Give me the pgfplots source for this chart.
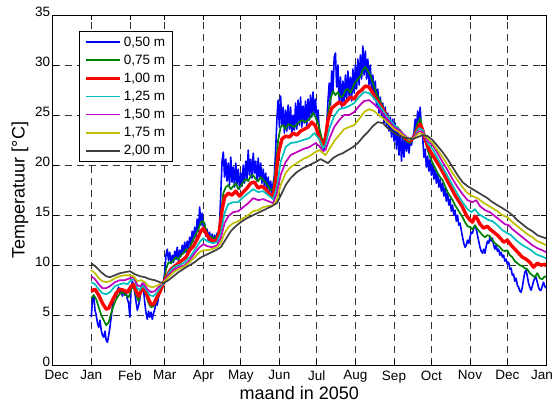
\documentclass[border=0pt]{standalone}
\usepackage{fontspec}
\setmainfont{Liberation Sans}
\usepackage{pgfplots}
\pgfplotsset{compat=1.18}
\definecolor{mblue}{RGB}{0,0,255}
\definecolor{mgreen}{RGB}{0,128,0}
\definecolor{mred}{RGB}{255,0,0}
\definecolor{mcyan}{RGB}{0,191,191}
\definecolor{mmagenta}{RGB}{191,0,191}
\definecolor{myellow}{RGB}{191,191,0}
\definecolor{mgray}{RGB}{64,64,64}
\pgfplotsset{legend image code/.code={\draw[#1] (0pt,0pt) -- (34pt,0pt);}}
\begin{document}
\begin{tikzpicture}
\path[use as bounding box] (-52.6pt,-38pt) rectangle (501pt,365pt);
\begin{axis}[
  at={(0pt,0pt)}, anchor=south west,
  scale only axis, width=493pt, height=350pt,
  xmin=-31, xmax=365, ymin=0, ymax=35,
  xtick={-31,0,31,59,90,120,151,181,212,243,273,304,334,365},
  xticklabels={\makebox[0pt][l]{\hspace{-8pt}Dec},Jan,Feb,Mar,Apr,May,Jun,Jul,Aug,Sep,Oct,Nov,Dec,\makebox[0pt][r]{Jan\hspace{-7pt}}},
  ytick={0,5,...,35},
  tick align=inside,
  major tick length=5pt,
  grid=major,
  major grid style={black!80, dash pattern=on 7pt off 5pt, line width=0.7pt},
  axis line style={line width=0.9pt},
  tick style={black, line width=0.7pt},
  ticklabel style={font=\fontsize{13.5}{15}\selectfont},
  yticklabel style={yshift=3.2pt, xshift=1pt},
  xticklabel style={yshift=-1.8pt},
  /pgf/number format/assume math mode=true,
  xlabel={maand in 2050}, ylabel={Temperatuur [°C]},
  label style={font=\fontsize{18}{20}\selectfont},
  x label style={at={(axis description cs:0.5,-0.080)}, anchor=center},
  y label style={at={(axis description cs:-0.066,0.5)}, anchor=center},
  legend style={at={(axis description cs:0.0535,0.954)}, anchor=north west,
    draw=black, line width=0.9pt, fill=white,
    font=\fontsize{13.5}{15}\selectfont, row sep=3.2pt,
    inner xsep=5pt, inner ysep=3pt,
    cells={anchor=west}},
  every axis plot/.append style={line join=round},
]
% 0,50 m
\addplot[forget plot, color=mblue, draw=mblue, line width=1.6pt] coordinates {
(0,4.8) (1,6.5) (2,7.0) (3,5.5) (4,5.0) (5,4.2) (6,3.8) (7,4.5) (8,3.5) (9,3.0)
(10,2.8) (11,3.4) (12,2.5) (13,2.3) (14,3.0) (15,3.8) (16,4.8) (17,5.9) (18,6.5) (19,7.2)
(20,6.8) (21,7.5) (22,7.8) (23,7.2) (24,7.6) (25,6.9) (26,7.4) (27,7.0) (28,7.3) (29,6.6)
(30,6.2) (31,4.8) (32,7.8) (33,8.4) (34,8.0) (35,7.2) (36,6.3) (37,5.5) (38,6.0) (39,6.6)
(40,7.8) (41,8.2) (42,7.5) (43,6.2) (44,5.2) (45,4.6) (46,5.4) (47,4.8) (48,5.3) (49,4.6)
(50,5.2) (51,5.6) (52,6.4) (53,6.0) (54,6.8) (55,7.4) (56,7.9) (57,8.1) (58,8.4) (59,9.3)
(60,11.0) (61,11.6) (62,10.5) (63,11.3) (64,10.2) (65,11.0) (66,10.3) (67,11.4) (68,10.6) (69,11.8)
(70,10.4) (71,11.5) (72,10.9) (73,12.0) (74,11.2) (75,12.3) (76,11.3) (77,12.4) (78,11.6) (79,12.8)
(80,12.0) (81,13.4) (82,12.4) (83,13.8) (84,12.8) (85,14.6) (86,13.4) (87,15.8) (88,14.0) (89,15.2)
(90,13.6) (91,14.2) (92,12.9) (93,13.6) (94,12.4) (95,13.3) (96,12.3) (97,13.1) (98,12.2) (99,13.0)
(100,12.4) (101,13.2) (102,12.8) (103,14.2) (104,17.2) (105,20.4) (106,21.3) (107,18.8) (108,20.6) (109,18.4)
(110,20.2) (111,18.0) (112,20.8) (113,18.3) (114,19.8) (115,17.8) (116,20.2) (117,18.1) (118,19.6) (119,17.6)
(120,19.2) (121,17.9) (122,20.0) (123,18.2) (124,20.4) (125,18.6) (126,21.5) (127,19.0) (128,20.6) (129,18.7)
(130,21.2) (131,19.2) (132,20.4) (133,18.4) (134,20.7) (135,18.6) (136,20.2) (137,18.2) (138,19.6) (139,17.8)
(140,19.2) (141,17.6) (142,18.8) (143,17.3) (144,18.4) (145,17.2) (146,18.2) (147,19.0) (148,21.5) (149,24.6)
(150,26.5) (151,23.8) (152,26.9) (153,24.0) (154,25.8) (155,23.2) (156,25.5) (157,23.4) (158,26.0) (159,23.6)
(160,25.8) (161,22.9) (162,25.0) (163,23.5) (164,26.2) (165,23.6) (166,26.5) (167,24.0) (168,26.8) (169,23.8)
(170,25.9) (171,24.2) (172,26.4) (173,23.9) (174,26.6) (175,24.5) (176,27.0) (177,24.8) (178,27.3) (179,25.0)
(180,26.6) (181,24.4) (182,25.5) (183,23.6) (184,23.0) (185,22.2) (186,21.8) (187,21.5) (188,22.4) (189,24.0)
(190,26.4) (191,28.2) (192,26.0) (193,29.4) (194,27.2) (195,30.8) (196,31.2) (197,27.8) (198,30.0) (199,26.4)
(200,28.8) (201,25.8) (202,28.4) (203,26.2) (204,29.0) (205,26.6) (206,29.4) (207,26.8) (208,28.8) (209,26.4)
(210,29.6) (211,27.2) (212,30.0) (213,27.6) (214,30.6) (215,28.0) (216,31.0) (217,28.6) (218,31.9) (219,29.0)
(220,31.4) (221,28.6) (222,30.6) (223,28.0) (224,30.0) (225,27.4) (226,29.0) (227,26.6) (228,28.4) (229,25.8)
(230,27.6) (231,25.2) (232,26.8) (233,24.8) (234,26.2) (235,24.2) (236,25.8) (237,23.8) (238,25.2) (239,23.4)
(240,24.8) (241,22.8) (242,24.6) (243,22.4) (244,24.2) (245,21.6) (246,23.8) (247,21.0) (248,23.4) (249,20.4)
(250,22.8) (251,20.8) (252,23.0) (253,21.4) (254,22.6) (255,21.2) (256,22.4) (257,22.0) (258,22.8) (259,23.2)
(260,24.6) (261,23.4) (262,25.4) (263,24.2) (264,25.8) (265,23.6) (266,22.8) (267,20.8) (268,21.6) (269,19.8)
(270,20.9) (271,19.4) (272,20.6) (273,19.0) (274,20.2) (275,18.6) (276,19.6) (277,18.2) (278,19.2) (279,17.8)
(280,18.6) (281,17.4) (282,18.2) (283,16.9) (284,17.7) (285,16.4) (286,17.2) (287,16.0) (288,16.6) (289,15.4)
(290,16.0) (291,15.0) (292,15.5) (293,14.4) (294,15.0) (295,14.0) (296,14.2) (297,13.5) (298,12.8) (299,12.2)
(300,11.8) (301,12.0) (302,12.5) (303,12.2) (304,12.8) (305,13.3) (306,13.2) (307,13.7) (308,13.9) (309,13.6)
(310,13.0) (311,12.4) (312,11.8) (313,11.4) (314,11.2) (315,11.6) (316,11.2) (317,11.9) (318,12.4) (319,12.2)
(320,12.8) (321,12.4) (322,12.7) (323,12.0) (324,11.6) (325,12.0) (326,11.4) (327,11.6) (328,11.0) (329,11.3)
(330,10.8) (331,11.0) (332,10.4) (333,10.6) (334,10.1) (335,10.3) (336,9.6) (337,9.7) (338,9.0) (339,9.1)
(340,8.4) (341,8.7) (342,8.0) (343,7.8) (344,7.4) (345,7.3) (346,7.8) (347,8.6) (348,9.3) (349,9.5)
(350,8.9) (351,8.2) (352,7.8) (353,7.5) (354,7.9) (355,8.4) (356,8.7) (357,8.8) (358,8.3) (359,7.8)
(360,7.5) (361,7.5) (362,7.9) (363,8.3) (364,7.9) (365,7.7)
};
% 0,75 m
\addplot[forget plot, color=mgreen, draw=mgreen, line width=1.7pt] coordinates {
(0,6.7) (2,7.0) (4,6.6) (6,5.8) (8,5.0) (10,4.5) (12,4.0) (14,4.3) (16,5.2) (18,6.0)
(20,6.6) (22,7.0) (24,7.3) (26,7.2) (28,7.0) (30,6.8) (32,7.6) (34,7.9) (36,7.0) (38,6.4)
(40,7.4) (42,7.7) (44,7.0) (46,6.2) (48,5.8) (50,5.9) (52,6.3) (54,6.9) (56,7.5) (58,8.2)
(60,9.6) (62,10.3) (64,10.2) (66,10.5) (68,10.8) (70,10.6) (72,11.0) (74,11.2) (76,11.6) (78,11.4)
(80,12.0) (82,12.6) (84,13.1) (86,13.6) (88,14.3) (90,14.4) (92,13.6) (94,12.8) (96,12.9) (98,12.6)
(100,12.8) (102,13.0) (104,15.0) (106,17.2) (108,17.8) (110,18.0) (112,17.6) (114,17.9) (116,18.2) (118,17.6)
(120,17.9) (122,18.3) (124,18.6) (126,18.4) (128,18.9) (130,19.0) (132,18.6) (134,18.4) (136,18.8) (138,18.5)
(140,18.3) (142,17.9) (144,17.5) (146,17.6) (148,19.8) (150,22.5) (152,23.8) (154,24.0) (156,23.6) (158,24.1)
(160,24.0) (163,23.8) (166,24.2) (169,24.5) (172,24.3) (175,24.6) (178,25.2) (180,24.8) (182,24.2) (184,23.2)
(186,22.2) (188,22.5) (190,25.0) (192,26.6) (194,27.4) (196,27.0) (198,27.3) (200,26.8) (202,26.9) (204,27.5)
(206,27.6) (208,27.2) (210,27.8) (212,28.3) (214,28.6) (216,28.9) (218,29.5) (220,29.8) (222,29.4) (224,29.0)
(226,28.2) (228,27.5) (230,26.8) (232,26.4) (234,25.8) (236,25.3) (238,24.8) (240,24.2) (242,23.8) (244,23.5)
(246,23.8) (248,23.2) (250,22.8) (252,22.5) (254,22.3) (256,22.2) (258,22.6) (260,23.4) (262,24.2) (264,24.7)
(266,23.6) (268,22.4) (270,21.5) (272,20.8) (274,20.2) (276,19.7) (278,19.2) (280,18.8) (282,18.5) (284,17.9)
(286,17.3) (288,16.9) (290,16.5) (292,16.0) (294,15.6) (296,15.2) (298,14.8) (300,14.3) (302,13.9) (304,13.8)
(306,13.6) (308,14.0) (310,13.6) (312,13.3) (314,13.0) (316,12.8) (318,13.0) (320,12.9) (322,12.5) (324,12.2)
(326,12.0) (328,11.8) (330,11.5) (332,11.4) (334,11.5) (336,11.0) (338,10.8) (340,10.4) (342,10.2) (344,10.0)
(346,9.9) (348,9.7) (350,9.6) (352,9.2) (354,9.0) (356,8.8) (358,9.2) (360,8.7) (362,8.6) (364,8.9) (365,8.8)
};
% 1,00 m
\addplot[forget plot, color=mred, draw=mred, line width=3.4pt] coordinates {
(0,7.4) (3,7.6) (6,7.0) (9,6.2) (12,5.6) (14,5.7) (17,6.5) (20,7.2) (23,7.6) (26,7.5)
(29,7.3) (32,7.9) (34,8.1) (36,7.4) (38,6.9) (40,7.4) (42,7.7) (44,7.3) (46,6.6) (48,6.1)
(50,6.1) (52,6.6) (55,7.3) (58,8.2) (61,9.0) (64,9.6) (67,9.9) (70,10.2) (73,10.5) (76,10.8)
(79,11.5) (82,11.9) (85,12.6) (88,13.4) (90,13.7) (92,13.2) (95,12.6) (98,12.4) (101,12.5) (103,13.5)
(105,15.5) (107,16.8) (110,17.2) (113,17.0) (116,17.4) (119,16.9) (122,17.3) (125,17.7) (128,18.2) (131,18.3)
(134,17.7) (137,17.9) (140,17.6) (143,17.1) (146,16.8) (148,18.5) (150,21.0) (153,22.6) (156,22.9) (159,22.8)
(162,23.2) (165,23.0) (168,23.4) (171,23.6) (174,23.8) (177,24.3) (180,23.9) (183,22.8) (186,21.8) (188,22.8)
(190,24.5) (193,25.7) (196,26.0) (199,26.3) (202,26.0) (205,26.4) (208,26.8) (211,26.6) (214,27.2) (217,27.5)
(220,27.9) (223,27.8) (226,27.2) (229,26.5) (232,26.0) (235,25.4) (238,24.6) (241,24.0) (244,23.6) (247,23.5)
(250,23.0) (253,22.6) (256,22.4) (259,22.8) (262,23.6) (264,24.1) (266,23.5) (268,22.6) (271,21.6) (274,21.0)
(277,20.4) (280,19.8) (283,19.1) (286,18.4) (289,17.7) (292,17.0) (295,16.4) (298,15.8) (301,15.0) (304,14.5)
(306,14.3) (308,14.9) (310,14.6) (312,14.1) (315,13.7) (318,13.9) (320,13.6) (323,13.3) (326,13.0) (329,12.6)
(331,12.3) (334,12.5) (337,12.0) (340,11.6) (343,11.2) (346,10.8) (349,10.6) (352,10.3) (355,9.8) (358,10.2)
(361,10.0) (364,10.1) (365,9.9)
};
% 1,25 m
\addplot[forget plot, color=mcyan, draw=mcyan, line width=1.7pt] coordinates {
(0,8.3) (3,8.1) (6,7.6) (9,7.2) (12,7.1) (15,7.3) (19,7.9) (23,8.1) (26,8.2) (29,8.1)
(32,8.5) (35,8.6) (37,7.7) (39,7.5) (41,8.0) (44,7.6) (47,7.0) (50,6.9) (53,7.3) (56,7.9)
(59,8.3) (62,9.2) (66,9.8) (70,10.0) (74,10.2) (79,10.8) (83,11.5) (87,12.3) (90,12.7) (93,12.4)
(97,12.2) (101,12.3) (104,13.2) (107,15.2) (110,16.1) (114,16.3) (118,16.3) (122,16.8) (126,17.2) (130,17.6)
(134,17.3) (138,17.4) (142,17.0) (146,16.6) (149,17.8) (152,20.3) (156,21.8) (160,22.2) (165,22.3) (170,22.5)
(175,22.7) (179,23.2) (183,22.6) (186,21.7) (188,22.0) (191,23.6) (195,24.9) (199,25.6) (203,25.7) (207,25.9)
(211,26.2) (215,26.8) (219,27.3) (223,27.2) (227,26.7) (231,26.0) (235,25.3) (239,24.6) (243,24.0) (247,23.6)
(251,23.0) (255,22.5) (259,22.8) (263,23.7) (266,23.5) (270,22.2) (274,21.6) (278,20.7) (282,19.8) (286,18.9)
(290,18.0) (294,17.1) (298,16.3) (302,15.6) (305,15.3) (308,15.6) (311,15.1) (315,14.8) (319,14.5) (322,14.4)
(326,14.0) (330,13.5) (334,13.2) (337,13.0) (341,12.5) (345,12.1) (349,11.8) (353,11.5) (357,11.1) (361,10.9)
(365,10.7)
};
% 1,50 m
\addplot[forget plot, color=mmagenta, draw=mmagenta, line width=1.7pt] coordinates {
(0,8.9) (3,8.6) (6,8.1) (9,7.7) (12,7.7) (15,7.9) (19,8.3) (23,8.5) (27,8.5) (31,8.7)
(34,8.8) (37,8.0) (39,7.9) (42,8.2) (45,7.6) (48,7.3) (51,7.4) (54,7.8) (58,8.3) (62,9.0)
(66,9.5) (70,9.8) (75,10.0) (79,10.5) (83,11.2) (87,11.8) (90,12.1) (93,11.9) (97,11.8) (101,12.0)
(104,12.7) (107,14.2) (110,14.9) (114,15.3) (118,15.4) (122,15.8) (126,16.2) (130,16.7) (134,16.5) (138,16.6)
(142,16.4) (146,16.2) (149,17.2) (152,19.0) (156,20.3) (160,21.0) (165,21.3) (170,21.6) (175,21.8) (180,22.2)
(183,21.9) (186,21.4) (188,21.5) (191,22.6) (195,23.8) (199,24.5) (203,25.0) (207,25.0) (211,25.3) (215,25.9)
(219,26.4) (223,26.5) (227,26.1) (231,25.6) (235,25.0) (239,24.4) (243,23.8) (247,23.5) (251,23.0) (255,22.6)
(259,22.8) (263,23.4) (266,23.3) (270,22.4) (274,22.0) (278,21.2) (282,20.3) (286,19.5) (290,18.6) (294,17.8)
(298,17.1) (302,16.5) (306,16.3) (309,16.5) (312,15.9) (316,15.5) (320,15.3) (324,14.9) (328,14.5) (332,14.1)
(335,14.0) (338,13.6) (342,13.2) (346,12.8) (350,12.4) (354,12.0) (358,11.7) (362,11.5) (365,11.3)
};
% 1,75 m
\addplot[forget plot, color=myellow, draw=myellow, line width=1.7pt] coordinates {
(0,9.5) (3,9.2) (6,8.7) (9,8.4) (12,8.3) (15,8.4) (19,8.7) (23,8.9) (27,9.0) (31,9.0)
(34,8.9) (37,8.4) (40,8.5) (43,8.3) (46,7.9) (49,7.8) (52,7.9) (55,8.1) (58,8.3) (62,8.8)
(66,9.3) (70,9.6) (75,9.9) (79,10.3) (83,10.8) (87,11.3) (90,11.5) (93,11.5) (97,11.6) (101,11.8)
(104,12.2) (107,13.2) (110,13.8) (114,14.2) (118,14.4) (122,14.7) (126,15.0) (130,15.4) (134,15.5) (138,15.8)
(142,15.9) (146,16.0) (149,16.5) (152,18.0) (156,19.2) (160,19.8) (165,20.2) (170,20.6) (175,20.9) (180,21.3)
(183,21.5) (186,21.2) (188,21.0) (191,21.6) (195,22.4) (199,23.0) (203,23.6) (207,23.8) (211,24.0) (215,24.6)
(219,25.3) (223,25.6) (227,25.4) (231,25.0) (235,24.6) (239,24.1) (243,23.6) (247,23.3) (251,22.9) (255,22.6)
(259,22.7) (263,23.2) (266,23.1) (270,22.7) (274,22.2) (278,21.5) (282,20.8) (286,20.0) (290,19.2) (294,18.5)
(298,17.8) (302,17.2) (306,16.9) (310,16.7) (314,16.3) (318,16.0) (322,15.7) (326,15.4) (330,15.0) (334,14.8)
(338,14.3) (342,13.9) (346,13.5) (350,13.1) (354,12.8) (358,12.4) (362,12.2) (365,12.0)
};
% 2,00 m
\addplot[forget plot, color=mgray, draw=mgray, line width=1.7pt] coordinates {
(0,10.2) (4,9.8) (8,9.3) (12,8.9) (15,8.8) (19,9.0) (23,9.2) (27,9.3) (31,9.4) (35,9.1)
(39,8.9) (43,8.8) (47,8.6) (51,8.5) (55,8.3) (58,8.2) (62,8.5) (66,8.9) (70,9.3) (75,9.7)
(79,10.0) (83,10.3) (87,10.7) (90,10.9) (95,11.2) (100,11.5) (104,11.8) (108,12.6) (112,13.4) (116,13.9)
(120,14.3) (125,14.7) (130,15.0) (135,15.3) (140,15.6) (145,15.9) (149,16.2) (153,17.2) (156,18.0) (160,18.7)
(165,19.3) (170,19.7) (175,20.0) (180,20.3) (184,20.6) (187,20.4) (190,20.2) (194,20.7) (198,21.0) (202,21.2)
(206,21.5) (210,21.8) (214,22.2) (218,22.8) (222,23.3) (226,23.9) (230,24.3) (234,24.2) (238,23.7) (242,23.3)
(246,23.0) (250,22.8) (254,22.7) (258,22.6) (262,22.8) (266,23.0) (270,22.9) (274,22.5) (278,21.9) (282,21.3)
(286,20.6) (290,19.8) (294,19.0) (298,18.3) (302,17.9) (306,17.6) (310,17.3) (314,17.0) (318,16.7) (322,16.3)
(326,16.0) (330,15.7) (334,15.4) (338,15.0) (342,14.5) (346,14.1) (350,13.7) (354,13.4) (358,13.0) (362,12.8)
(365,12.7)
};
\addlegendimage{draw=mblue, color=mblue, line width=1.6pt}
\addlegendentry{0,50 m}
\addlegendimage{draw=mgreen, color=mgreen, line width=1.7pt}
\addlegendentry{0,75 m}
\addlegendimage{draw=mred, color=mred, line width=3.4pt}
\addlegendentry{1,00 m}
\addlegendimage{draw=mcyan, color=mcyan, line width=1.7pt}
\addlegendentry{1,25 m}
\addlegendimage{draw=mmagenta, color=mmagenta, line width=1.7pt}
\addlegendentry{1,50 m}
\addlegendimage{draw=myellow, color=myellow, line width=1.7pt}
\addlegendentry{1,75 m}
\addlegendimage{draw=mgray, color=mgray, line width=1.7pt}
\addlegendentry{2,00 m}
\end{axis}
\end{tikzpicture}
\end{document}
